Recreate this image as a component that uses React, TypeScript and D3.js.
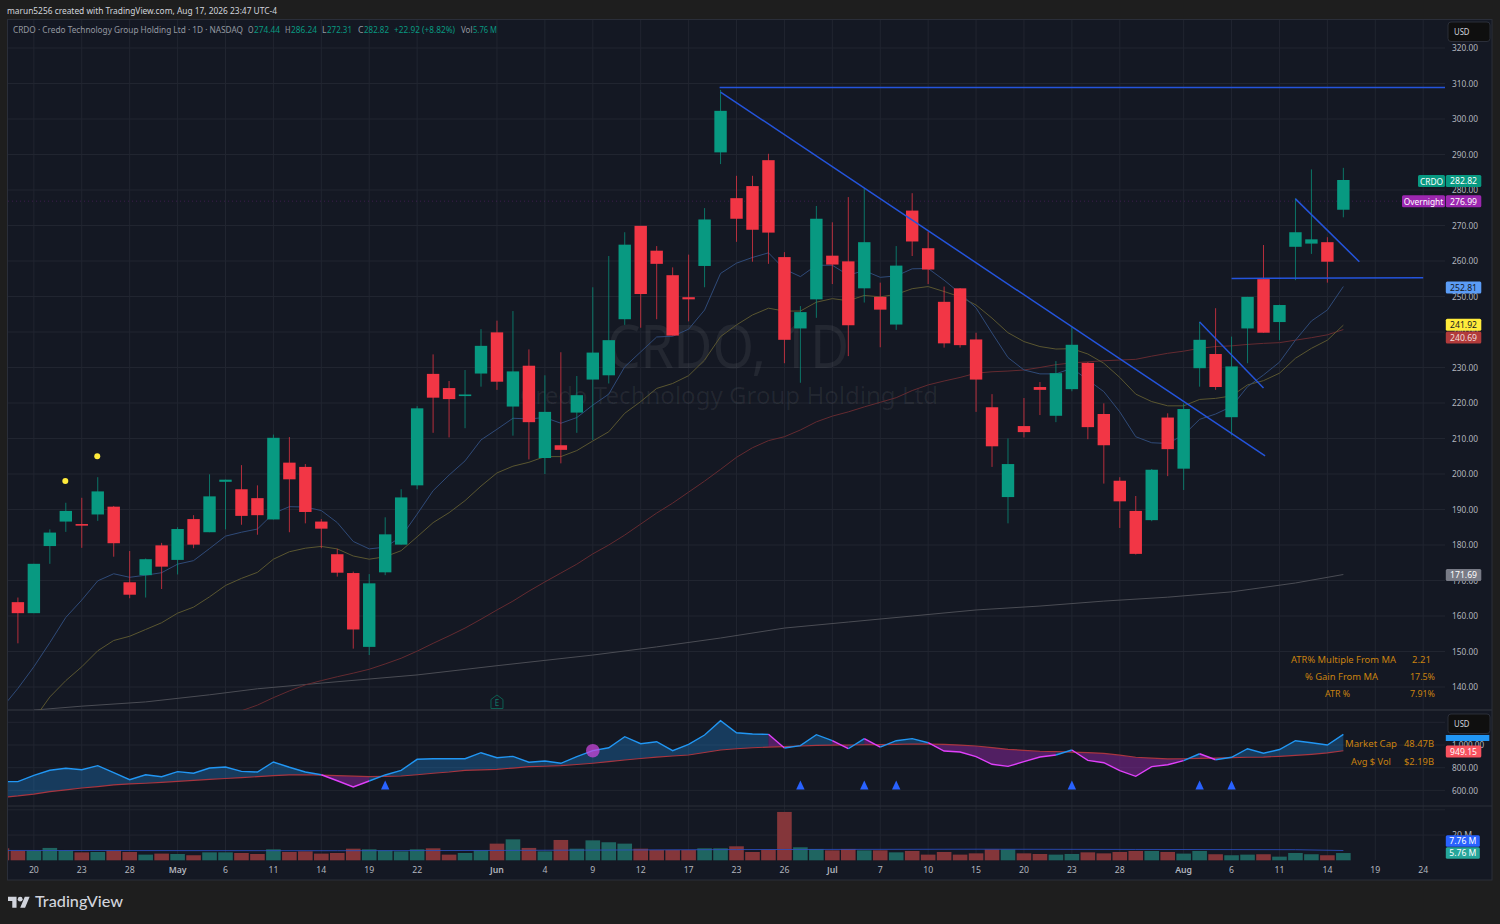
import React from "react";
import * as d3 from "d3";

const FONT = "'Noto Sans', sans-serif";

// ---------- candles (bars 0..83) ----------
const opens = [
  163.9,160.8,179.7,186.6,185.9,188.6,190.8,169.5,171.5,179.9,
  175.8,187.3,183.6,197.8,195.7,193.2,187.2,203.2,202.0,186.6,
  177.4,172.1,151.3,172.3,180.1,196.8,228.2,224.2,222.2,228.3,
  239.9,219.0,230.5,204.5,208.1,217.3,226.6,227.8,243.6,269.9,
  262.9,256.0,249.8,258.6,290.6,277.7,281.1,288.4,261.1,241.0,
  249.2,261.5,259.9,252.3,249.9,242.1,274.2,263.6,248.5,252.3,
  237.9,218.8,193.5,213.5,224.5,216.4,223.9,231.3,216.9,198.1,
  189.6,187.0,215.9,201.5,229.8,233.8,216.0,241.0,254.9,242.8,
  264.0,264.9,265.3,274.44,
];
const closes = [
  160.8,174.7,183.5,189.6,185.6,195.1,180.5,166.0,176.0,173.9,
  184.5,180.1,193.7,198.4,188.2,188.4,210.2,198.5,189.3,184.6,
  172.2,156.2,169.2,183.0,193.4,218.5,221.5,221.1,222.4,236.1,
  226.0,228.9,214.6,217.5,206.8,222.2,234.2,237.7,264.6,250.7,
  259.2,239.0,249.2,271.7,302.3,271.9,268.8,268.0,237.8,245.6,
  271.9,259.0,241.9,265.3,246.3,258.7,265.5,257.6,236.8,236.3,
  226.6,207.8,202.8,211.8,223.7,228.4,236.4,213.2,208.1,192.3,
  177.5,201.2,207.0,218.3,237.8,224.5,230.3,249.9,239.8,247.6,
  268.1,266.1,259.8,282.82,
];
const highs = [
  165.2,174.7,184.4,191.9,193.3,199.1,191.0,178.3,176.2,180.6,
  185.0,188.4,199.9,198.4,202.5,196.8,211.1,210.4,202.8,187.3,
  178.9,172.5,171.8,187.8,195.7,219.1,233.7,226.2,229.3,240.8,
  243.2,245.9,235.1,227.8,234.3,227.6,252.6,261.4,268.1,269.9,
  264.2,258.2,261.8,274.9,308.2,284.0,284.0,290.2,262.5,247.3,
  275.5,270.9,278.0,280.5,253.9,264.2,279.1,268.3,252.8,252.4,
  239.8,222.5,210.0,221.4,225.9,231.8,241.5,231.5,219.9,199.1,
  193.8,201.4,217.1,219.9,242.9,246.7,238.7,249.9,264.5,247.7,
  277.7,285.8,266.7,286.24,
];
const lows = [
  152.3,160.8,174.7,183.7,179.2,186.8,176.7,165.0,165.2,167.6,
  171.7,179.1,183.6,184.4,185.7,182.9,187.2,183.6,186.1,179.1,
  171.1,150.8,149.0,171.5,180.1,195.7,211.6,210.3,212.9,224.6,
  223.7,210.8,204.1,200.0,203.0,211.6,209.6,225.5,242.0,241.2,
  243.6,239.0,243.0,252.6,287.3,265.4,259.8,259.2,231.2,225.7,
  244.0,253.5,233.2,248.3,235.7,240.6,261.4,253.5,235.6,235.6,
  217.5,202.0,186.1,210.3,216.6,214.6,223.3,209.8,197.3,184.8,
  177.3,186.7,199.4,195.5,224.6,223.7,210.9,231.2,239.8,237.7,
  254.6,262.0,253.9,272.31,
];

// ---------- moving averages ----------
const fastStart = -1;
const fastMA = [
  134.1,139.6,145.7,152.5,159.6,164.5,169.9,171.9,170.9,171.5,172.2,
  174.6,175.6,179.0,182.5,183.6,184.5,188.9,190.8,190.7,189.7,
  186.3,181.0,178.9,179.4,182.3,188.7,195.3,199.7,203.7,209.6,
  212.6,215.7,215.5,215.9,214.3,215.9,219.4,222.5,230.2,234.4,
  238.6,238.8,240.8,246.2,256.5,259.4,261.0,262.3,257.7,255.6,
  258.8,258.8,256.0,257.3,255.4,255.8,257.8,257.9,254.6,250.9,
  246.8,239.7,232.8,229.3,228.2,228.2,229.8,226.5,223.2,217.5,
  210.5,208.8,208.6,211.0,215.4,216.9,219.0,224.6,227.9,231.5,
  237.7,243.1,246.2,252.81,
];
const midStart = 1;
const midMA = [
  130.9,137.2,141.8,145.7,150.2,153.1,154.3,156.2,158.1,
  160.8,162.5,165.4,168.6,170.6,172.3,176.0,178.1,179.1,179.6,
  178.9,176.9,176.0,176.7,178.4,182.3,186.3,189.1,192.5,196.6,
  200.3,202.2,203.3,204.9,204.9,206.6,209.3,211.9,217.1,220.4,
  224.1,225.5,227.7,232.1,238.7,242.0,244.8,246.7,245.9,245.9,
  248.4,249.4,248.8,250.3,249.9,250.6,252.2,252.8,251.4,249.9,
  247.6,243.9,239.8,237.3,235.9,235.2,235.3,233.8,231.2,227.2,
  222.5,220.4,219.2,219.2,221.0,221.3,222.0,225.1,226.3,228.4,
  232.6,235.4,237.7,241.92,
];
const slowStart = 14;
const slowMA = [
  133.3,134.9,137.0,138.9,140.6,141.8,
  142.9,143.9,145.0,146.5,148.1,150.1,152.3,154.4,156.6,159.1,
  161.7,164.2,167.0,169.6,172.1,174.6,177.5,180.0,182.8,185.9,
  189.0,191.8,194.9,198.0,201.3,204.7,207.4,209.4,210.5,212.4,
  214.7,216.3,217.5,218.9,220.2,221.5,223.5,225.1,226.2,227.2,
  228.4,228.8,229.0,229.3,230.0,230.8,231.3,231.6,231.9,232.1,
  232.3,233.2,234.0,234.6,235.4,235.9,236.1,236.5,236.8,237.0,
  237.7,238.4,239.2,240.69,
];
const longBars = [1,4,8,12,15,19,25,30,36,40,44,48,52,56,60,64,68,72,76,80,83];
const longMA = [133.5,134.6,135.8,137.8,139.5,141.1,143.4,146.0,149.0,151.3,153.8,156.6,158.3,160.0,161.7,162.8,164.2,165.3,166.8,169.3,171.69];

// ---------- relative-strength pane (bars -1..83) ----------
const rsLine = [
  677,677,733,777,795,782,818,756,694,738,721,765,751,797,806,768,762,850,804,762,738,
  685,630,683,736,777,874,879,879,879,932,888,900,848,859,839,897,950,976,1073,1011,
  1029,950,1006,1088,1214,1108,1097,1094,974,994,1091,1038,967,1056,982,1038,1056,1020,947,938,
  897,830,812,853,894,912,956,865,844,774,724,809,826,862,923,870,892,967,927,960,
  1038,1020,1000,1094,
];
const rsAvg = [
  539,551,568,589,604,621,634,648,657,663,671,680,689,698,705,712,721,730,736,738,734,
  730,725,721,724,727,738,751,762,777,781,786,797,809,813,818,828,839,853,868,881,
  894,903,912,934,956,967,976,982,985,991,997,999,1000,1002,1003,1006,1009,1008,1006,999,
  991,977,962,953,945,941,938,933,927,910,892,884,877,879,883,885,888,892,894,900,
  909,918,930,949.15,
];
const rsMarkBars = [23,49,53,55,66,74,76];
const rsMarkValues = [600,600,600,600,600,600,600];
const rsDotBars = [36];
const rsDotValues = [950];

// ---------- volume (bars -1..83, millions) ----------
const volumes = [
  9.5,7.7,7.7,9.8,7.7,6.3,6.6,7.7,6.6,4.5,5.3,5.0,4.0,6.3,6.3,5.8,5.0,8.7,6.6,7.1,5.3,
  5.8,9.2,8.7,7.9,7.1,8.7,9.5,4.5,5.8,7.9,13.2,16.6,9.8,7.1,16.1,9.2,15.8,14.3,13.2,9.2,
  8.2,8.2,8.2,9.5,9.5,11.1,6.6,8.4,38.3,10.3,9.0,7.9,9.0,7.9,7.9,6.3,7.4,4.5,6.6,4.5,
  5.5,8.7,8.7,5.5,5.0,4.5,5.0,6.3,5.5,6.6,7.4,7.4,6.6,5.3,7.4,4.8,4.0,4.5,4.8,2.9,
  5.8,4.8,4.0,5.76,
];
const volAvgBars = [-1,20,30,45,60,70,80,83];
const volAvgValues = [7.8,7.6,7.8,8.5,8.8,8.6,8.4,7.76];

// ---------- ticks and labels ----------
const priceTicks = [320,310,300,290,280,270,260,250,240,230,220,210,200,190,180,170,160,150,140];
const rsTicks = [1000,800,600];
const rsGrid = [1200,1000,800,600];
const volGrid = [40,20];
const dateLabels = ["20","23","28","May","6","11","14","19","22","Jun","4","9","12","17","23","26","Jul","7","10","15","20","23","28","Aug","6","11","14","19","24"];
const dateBars = [1,4,7,10,13,16,19,22,25,30,33,36,39,42,45,48,51,54,57,60,63,66,69,73,76,79,82,85,88];
const monthLabels = ["May","Jun","Jul","Aug"];

// ---------- signals ----------
const dotBars = [3,5];
const dotPrices = [198.0,205.0];
const earningsBar = 30;

// ---------- hand-drawn trend lines: [bar, price, bar, price] ----------
const trendLines = [
  [43.94,308.9,89.5,308.9],
  [44,307.6,78.1,205.1],
  [74,242.8,78,224.2],
  [80,277.5,84,259.8],
  [76,255.1,88,255.3],
];
const overnight = 276.99;

const statsTop = [
  ["ATR% Multiple From MA","2.21"],
  ["% Gain From MA","17.5%"],
  ["ATR %","7.91%"],
];

// ---------- colours ----------
const UP = "#089981";
const DOWN = "#f23645";
const BG = "#141823";
const OUTER = "#1e1e1e";
const GRID = "#212530";
const SEP = "#2a2e39";
const AXIS_TXT = "#b2b5be";
const ORANGE = "#c9820f";
const BLUE_DRAW = "#2454dc";

const LEFT = 8, RIGHT = 1445, FRAME_R = 1492;
const TOP = 20, P1 = 710, P2 = 806, P3 = 860, BOTTOM = 880;

const x = d3.scaleLinear().domain([0, 88]).range([17.9, 1423.2]);
const y = d3.scaleLinear().domain([320, 140]).range([48, 687]);
const yRs = d3.scaleLinear().domain([1000, 600]).range([745, 790.4]);
const yVol = d3.scaleLinear().domain([0, 40]).range([860.3, 809.8]);

function maPath(start: number, values: number[]) {
  const line = d3.line<number>().x((_, i) => x(start + i)).y((v) => y(v));
  return line(values) as string;
}

type Seg = { up: boolean; from: number; to: number };
function rsRuns(): Seg[] {
  const runs: Seg[] = [];
  for (let k = 1; k < rsLine.length; k++) {
    const up = rsLine[k] >= rsAvg[k];
    const last = runs[runs.length - 1];
    if (last && last.up === up) last.to = k;
    else runs.push({ up, from: k - 1, to: k });
  }
  return runs;
}

const T = (p: any) => {
  const { x: tx, y: ty, size = 8.7, fill = AXIS_TXT, anchor = "start", weight = 400, w, children } = p;
  return (
    <text
      x={tx}
      y={ty + 0.3}
      fontSize={size}
      fill={fill}
      textAnchor={anchor}
      fontWeight={weight}
      fontFamily={FONT}
      dominantBaseline="central"
      textLength={w}
      lengthAdjust={w ? "spacingAndGlyphs" : undefined}
    >
      {children}
    </text>
  );
};

const Tag = (p: any) => {
  const { value, price, scale, fill, color = "#fff", label, labelW, w = 35.5, h = 12, dy = 0 } = p;
  const cy = scale(price) + dy;
  return (
    <g>
      {label && (
        <g>
          <rect x={1445 - labelW} y={cy - h / 2} width={labelW} height={h} rx={1.5} fill={fill} />
          <T x={1445 - labelW / 2} y={cy} anchor="middle" fill={color} size={8.4}>{label}</T>
        </g>
      )}
      <rect x={1445.8} y={cy - h / 2} width={w} height={h} rx={1.5} fill={fill} />
      <T x={1445.8 + w / 2} y={cy} anchor="middle" fill={color} size={8.6}>{value}</T>
    </g>
  );
};

export default function App() {
  const runs = rsRuns();
  const rsX = (k: number) => x(k - 1);
  const rsArea = d3.area<number>().x((k) => rsX(k)).y0((k) => yRs(rsAvg[k])).y1((k) => yRs(rsLine[k]));
  const rsLinePath = d3.line<number>().x((k) => rsX(k)).y((k) => yRs(rsLine[k]));
  const rsAvgPath = d3.line<number>().x((_, k) => rsX(k)).y((v) => yRs(v));
  const volAvgPath = d3.line<number>().x((_, i) => x(volAvgBars[i])).y((v) => yVol(v));
  const longPath = d3.line<number>().x((_, i) => x(longBars[i])).y((v) => y(v));
  const bodyW = 12.4;
  const volW = 14.6;

  return (
    <svg
      width={1500}
      height={924}
      viewBox="0 0 1500 924"
      style={{ position: "absolute", left: 0, top: 0, display: "block" }}
    >
      <defs>
        <clipPath id="c1"><rect x={LEFT} y={TOP} width={RIGHT - LEFT} height={P1 - TOP} /></clipPath>
        <clipPath id="c2"><rect x={LEFT} y={P1} width={RIGHT - LEFT} height={P2 - P1} /></clipPath>
        <clipPath id="c3"><rect x={LEFT} y={P2} width={RIGHT - LEFT} height={P3 - P2 + 1} /></clipPath>
      </defs>

      <rect width={1500} height={924} fill={OUTER} />
      <rect x={7.5} y={19.5} width={FRAME_R - 7.5} height={BOTTOM - 19.5} fill={BG} stroke={SEP} strokeWidth={1} />

      <T x={7} y={11} fill="#d1d4dc" w={270}>marun5256 created with TradingView.com, Aug 17, 2026 23:47 UTC-4</T>

      {/* grid */}
      {dateBars.map((b) => (
        <line key={b} x1={x(b)} x2={x(b)} y1={TOP} y2={P3} stroke={GRID} strokeWidth={1} />
      ))}
      {priceTicks.map((t) => (
        <line key={t} x1={LEFT} x2={RIGHT} y1={y(t)} y2={y(t)} stroke={GRID} strokeWidth={1} />
      ))}
      {rsGrid.map((t) => (
        <line key={t} x1={LEFT} x2={RIGHT} y1={yRs(t)} y2={yRs(t)} stroke={GRID} strokeWidth={1} />
      ))}
      {volGrid.map((t) => (
        <line key={t} x1={LEFT} x2={RIGHT} y1={yVol(t)} y2={yVol(t)} stroke={GRID} strokeWidth={1} />
      ))}
      <line x1={LEFT} x2={FRAME_R} y1={P1} y2={P1} stroke={SEP} strokeWidth={1.5} />
      <line x1={LEFT} x2={FRAME_R} y1={P2} y2={P2} stroke={SEP} strokeWidth={1} />

      {/* watermark */}
      <text x={728} y={368} fontSize={60} fill="rgba(255,255,255,0.065)" textAnchor="middle" fontFamily={FONT} textLength={242} lengthAdjust="spacingAndGlyphs">CRDO, 1D</text>
      <text x={729} y={404} fontSize={24} fill="rgba(255,255,255,0.065)" textAnchor="middle" fontFamily={FONT} textLength={418} lengthAdjust="spacingAndGlyphs">Credo Technology Group Holding Ltd</text>

      {/* price pane */}
      <g clipPath="url(#c1)">
        <line x1={LEFT} x2={RIGHT} y1={y(overnight) + 0.5} y2={y(overnight) + 0.5} stroke="rgba(156,39,176,0.3)" strokeWidth={1} strokeDasharray="1 3" />
        <path d={longPath(longMA) as string} fill="none" stroke="#4a4c54" strokeWidth={1} />
        <path d={maPath(slowStart, slowMA)} fill="none" stroke="#642a30" strokeWidth={1} />
        <path d={maPath(midStart, midMA)} fill="none" stroke="#5a5630" strokeWidth={1} />
        <path d={maPath(fastStart, fastMA)} fill="none" stroke="#2f4a78" strokeWidth={1} />
        {opens.map((o, i) => {
          const c = closes[i];
          const col = c >= o ? UP : DOWN;
          const top = y(Math.max(o, c));
          const bot = y(Math.min(o, c));
          return (
            <g key={i}>
              <line x1={x(i)} x2={x(i)} y1={y(highs[i])} y2={y(lows[i])} stroke={col} strokeOpacity={0.72} strokeWidth={1} />
              <rect x={x(i) - bodyW / 2} y={top} width={bodyW} height={Math.max(bot - top, 1.6)} fill={col} />
            </g>
          );
        })}
        {dotBars.map((b, i) => (
          <circle key={b} cx={x(b) - 0.5} cy={y(dotPrices[i])} r={3} fill="#ffeb3b" />
        ))}
        {trendLines.map((l, i) => (
          <line key={i} x1={x(l[0])} y1={y(l[1])} x2={x(l[2])} y2={y(l[3])} stroke={BLUE_DRAW} strokeWidth={1.5} />
        ))}
        <g transform={`translate(${x(earningsBar)},${P1 - 8})`}>
          <path d="M-6,-2.5 L0,-7 L6,-2.5 L6,6.5 L-6,6.5 Z" fill="none" stroke="#0d5f52" strokeWidth={1} />
          <text textAnchor="middle" y={3.5} fontSize={8} fill="#0f7a69" fontFamily={FONT}>E</text>
        </g>
      </g>

      {/* relative strength pane */}
      <g clipPath="url(#c2)">
        {runs.map((r, i) => {
          const ks = d3.range(r.from, r.to + 1);
          return (
            <path key={i} d={rsArea(ks) as string} fill={r.up ? "rgba(33,150,243,0.28)" : "rgba(156,39,176,0.45)"} />
          );
        })}
        <path d={rsAvgPath(rsAvg) as string} fill="none" stroke="#a8353f" strokeWidth={1.2} />
        {runs.map((r, i) => {
          const ks = d3.range(r.from, r.to + 1);
          return (
            <path key={i} d={rsLinePath(ks) as string} fill="none" stroke={r.up ? "#2196f3" : "#e040fb"} strokeWidth={1.4} />
          );
        })}
        {rsDotBars.map((b, i) => (
          <circle key={b} cx={x(b)} cy={yRs(rsDotValues[i])} r={6.8} fill="rgba(205,70,225,0.72)" />
        ))}
        {rsMarkBars.map((b, i) => {
          const cy = yRs(rsMarkValues[i]) - 5.5;
          const cx = x(b);
          const tri = d3.path();
          tri.moveTo(cx, cy - 4.5);
          tri.lineTo(cx + 4.2, cy + 4.5);
          tri.lineTo(cx - 4.2, cy + 4.5);
          tri.closePath();
          return <path key={b} d={tri.toString()} fill="#2962ff" />;
        })}
      </g>

      {/* volume pane */}
      <g clipPath="url(#c3)">
        {volumes.map((v, k) => {
          const b = k - 1;
          const isUp = b >= 0 ? closes[b] >= opens[b] : false;
          return (
            <rect
              key={k}
              x={x(b) - volW / 2}
              y={yVol(v)}
              width={volW}
              height={yVol(0) - yVol(v)}
              fill={isUp ? "#1f6561" : "#84363a"}
            />
          );
        })}
        <path d={volAvgPath(volAvgValues) as string} fill="none" stroke="#2b4fc0" strokeOpacity={0.85} strokeWidth={1} />
      </g>

      {/* indicator tables */}
      <T x={1396} y={659.5} anchor="end" fill={ORANGE} w={105}>{statsTop[0][0]}</T>
      <T x={1421.5} y={659.5} anchor="middle" fill={ORANGE} w={19}>{statsTop[0][1]}</T>
      <T x={1378} y={677} anchor="end" fill={ORANGE} w={73}>{statsTop[1][0]}</T>
      <T x={1435} y={677} anchor="end" fill={ORANGE} w={25}>{statsTop[1][1]}</T>
      <T x={1350} y={694} anchor="end" fill={ORANGE} w={25}>{statsTop[2][0]}</T>
      <T x={1435} y={694} anchor="end" fill={ORANGE} w={25}>{statsTop[2][1]}</T>
      <T x={1397} y={744} anchor="end" fill={ORANGE} w={52}>Market Cap</T>
      <T x={1434} y={744} anchor="end" fill={ORANGE} w={30}>48.47B</T>
      <T x={1391} y={761.5} anchor="end" fill={ORANGE} w={40}>Avg $ Vol</T>
      <T x={1434} y={761.5} anchor="end" fill={ORANGE} w={30}>$2.19B</T>

      {/* legend row */}
      <T x={13} y={30} fill="#9598a1" w={230}>CRDO · Credo Technology Group Holding Ltd · 1D · NASDAQ</T>
      <T x={248} y={30} fill="#9598a1" w={5.5}>O</T>
      <T x={254} y={30} fill={UP} w={26}>274.44</T>
      <T x={285} y={30} fill="#9598a1" w={5.5}>H</T>
      <T x={291} y={30} fill={UP} w={26}>286.24</T>
      <T x={322} y={30} fill="#9598a1" w={4.5}>L</T>
      <T x={327} y={30} fill={UP} w={25}>272.31</T>
      <T x={358} y={30} fill="#9598a1" w={5.5}>C</T>
      <T x={364} y={30} fill={UP} w={25}>282.82</T>
      <T x={394} y={30} fill={UP} w={61}>+22.92 (+8.82%)</T>
      <T x={461} y={30} fill="#9598a1" w={11.5}>Vol</T>
      <T x={473} y={30} fill={UP} w={24}>5.76 M</T>

      {/* axis labels */}
      {priceTicks.map((t) => (
        <T key={t} x={1452} y={y(t)} w={26}>{t.toFixed(2)}</T>
      ))}
      {rsTicks.map((t) => (
        <T key={t} x={1452} y={yRs(t)} w={t === 1000 ? 32 : 26}>{t === 1000 ? "1,000.00" : `${t}.00`}</T>
      ))}
      <T x={1452} y={yVol(20) - 0.5}>20 M</T>
      {dateLabels.map((l, i) => (
        <T key={i} x={x(dateBars[i])} y={870} anchor="middle" weight={monthLabels.includes(l) ? 600 : 400}>{l}</T>
      ))}

      {/* price tags */}
      <Tag value="171.69" price={171.69} scale={y} fill="#787b86" dy={0.5} />
      <Tag value="240.69" price={240.69} scale={y} fill="#b23b3b" color="#f0dede" dy={8} />
      <Tag value="241.92" price={241.92} scale={y} fill="#ffeb3b" color="#131722" dy={-0.5} />
      <Tag value="252.81" price={252.81} scale={y} fill="#5b9cf6" color="#131722" dy={1} />
      <Tag value="276.99" price={276.99} scale={y} fill="#9c27b0" label="Overnight" labelW={43} dy={0.6} />
      <Tag value="282.82" price={282.82} scale={y} fill={UP} label="CRDO" labelW={27} dy={1} />

      <rect x={1445.8} y={735} width={43.5} height={6} fill="#2196f3" />
      <Tag value="949.15" price={949.15} scale={yRs} fill="#f7525f" dy={0.8} />
      <Tag value="7.76 M" price={7.76} scale={(v: number) => yVol(v) - 9.5} fill="#2962ff" w={34} h={11.5} />
      <Tag value="5.76 M" price={5.76} scale={(v: number) => yVol(v)} fill="#26a69a" w={34} h={11.5} />

      {/* currency buttons */}
      <rect x={1448} y={22} width={42} height={19.5} rx={3} fill="#0f0f0f" stroke={SEP} />
      <T x={1454} y={32} fill="#d1d4dc" w={15.5}>USD</T>
      <rect x={1448} y={714} width={42} height={19.5} rx={3} fill="#0f0f0f" stroke={SEP} />
      <T x={1454} y={724} fill="#d1d4dc" w={15.5}>USD</T>

      {/* logo */}
      <g transform="translate(8,894.3) scale(0.61)" fill="#d1d4dc">
        <path d="M14 22H7V11H0V4h14v18zM28 22h-8l7.5-18h8L28 22z" />
        <circle cx={20} cy={8} r={4} />
      </g>
      <text x={35} y={907} fontSize={16} fontWeight={500} fill="#d1d4dc" fontFamily="Lato, 'Noto Sans', sans-serif" textLength={88} lengthAdjust="spacingAndGlyphs">TradingView</text>
    </svg>
  );
}
